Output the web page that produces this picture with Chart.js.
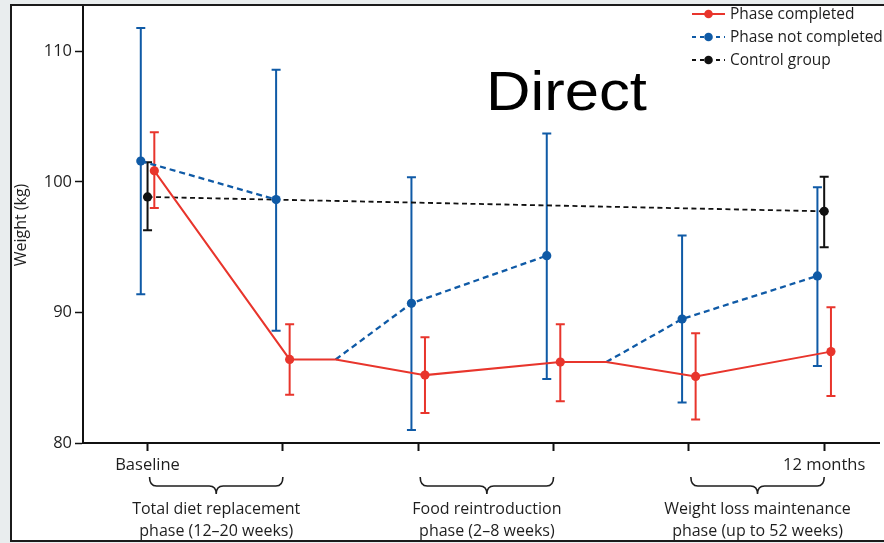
<!DOCTYPE html>
<html>
<head>
<meta charset="utf-8">
<script src="https://cdn.jsdelivr.net/npm/chart.js@4.4.1/dist/chart.umd.min.js"></script>
<style>
  html, body { margin: 0; padding: 0; background: #e9edee; overflow: hidden; }
  #panel {
    position: absolute; left: 10px; top: 4px; width: 900px; height: 534px;
    background: #fff;
    border-left: 2px solid #1b1b1b; border-top: 2px solid #1b1b1b; border-bottom: 2px solid #1b1b1b;
  }
  #wrap { position: absolute; left: 0; top: 0; width: 884px; height: 543px; }
</style>
</head>
<body>
<div id="panel"></div>
<div id="wrap"><canvas id="c" width="884" height="543"></canvas></div>
<script>
// Time points along the x axis (only the first and last are labelled)
const timeTicks = ['Baseline', '', '', '', '', '12 months'];
const yTicks = [80, 90, 100, 110];

// Weight (kg): mean and 95% CI per time point
const completedMean    = [100.85, 86.4, 85.2, 86.2, 85.1, 87.0];
const completedLow     = [98.0,   83.7, 82.3, 83.2, 81.8, 83.6];
const completedHigh    = [103.8,  89.1, 88.1, 89.1, 88.4, 90.4];

const notCompletedMean = [101.6, 98.65, 90.7,  94.35, 89.5, 92.8];
const notCompletedLow  = [91.4,  88.6,  81.0,  84.9,  83.1, 85.9];
const notCompletedHigh = [111.8, 108.6, 100.35, 103.7, 95.9, 99.6];

const controlMean = [98.85, null, null, null, null, 97.75];
const controlLow  = [96.3,  null, null, null, null, 95.0];
const controlHigh = [101.5, null, null, null, null, 100.4];

// Non-completers branch off the completed line after these time points
const branchAfter = [1, 3];

// Phase brackets under the axis
const phaseSpans  = [[0, 1], [2, 3], [4, 5]];
const phaseLabels = [
  ['Total diet replacement', 'phase (12\u201320 weeks)'],
  ['Food reintroduction', 'phase (2\u20138 weeks)'],
  ['Weight loss maintenance', 'phase (up to 52 weeks)']
];

const seriesNames = ['Phase completed', 'Phase not completed', 'Control group'];

// Layout constants
const DODGE = 0.05;   // horizontal nudge so the groups' error bars sit side by side
const SPLIT = 0.39;   // how far along an interval the branch leaves the completed line
const FONT = "'Open Sans', 'DejaVu Sans', sans-serif";
const RED = '#e8352c', BLUE = '#0f5aa6', BLACK = '#111111';
const TEXT = '#1e1e1e';

// Completed line, with a vertex at each branching point
const completedPts = [];
completedMean.forEach((v, i) => {
  completedPts.push({ x: i + DODGE, y: v });
  if (branchAfter.includes(i)) completedPts.push({ x: i + SPLIT, y: v, branch: true });
});

// Not-completed line: broken into segments, later ones starting from the branch
const notCompletedPts = [];
notCompletedMean.forEach((v, i) => {
  const prev = i - 1;
  if (branchAfter.includes(prev)) {
    notCompletedPts.push({ x: prev + SPLIT - 0.001, y: null });
    notCompletedPts.push({ x: prev + SPLIT, y: completedMean[prev], branch: true });
  }
  notCompletedPts.push({ x: i - DODGE, y: v });
});

const controlPts = controlMean
  .map((v, i) => ({ x: i, y: v }))
  .filter(p => p.y !== null);

const radius = ctx => (ctx.raw && ctx.raw.branch) ? 0 : 4.6;

const errorBars = {
  id: 'errorBars',
  beforeDatasetsDraw(chart) {
    const { ctx, scales: { x, y } } = chart;
    chart.data.datasets.forEach(ds => {
      if (!ds.errMean) return;
      ctx.save();
      ctx.strokeStyle = ds.borderColor;
      ctx.lineWidth = 2;
      ctx.setLineDash([]);
      ds.errMean.forEach((m, i) => {
        if (m === null) return;
        const px = x.getPixelForValue(i + ds.dodge);
        const lo = y.getPixelForValue(ds.errLow[i]);
        const hi = y.getPixelForValue(ds.errHigh[i]);
        ctx.beginPath();
        ctx.moveTo(px, lo); ctx.lineTo(px, hi);
        ctx.moveTo(px - 4.5, lo); ctx.lineTo(px + 4.5, lo);
        ctx.moveTo(px - 4.5, hi); ctx.lineTo(px + 4.5, hi);
        ctx.stroke();
      });
      ctx.restore();
    });
  }
};

const decorations = {
  id: 'decorations',
  afterDraw(chart) {
    const { ctx, scales: { x } } = chart;
    ctx.save();

    // y axis title
    ctx.fillStyle = TEXT;
    ctx.font = '16px ' + FONT;
    ctx.textAlign = 'center';
    ctx.textBaseline = 'middle';
    ctx.save();
    ctx.translate(21, 225);
    ctx.rotate(-Math.PI / 2);
    ctx.fillText('Weight (kg)', 0, 0);
    ctx.restore();

    // phase braces and their captions
    ctx.strokeStyle = TEXT;
    ctx.lineWidth = 1.6;
    phaseSpans.forEach((span, k) => {
      const x1 = x.getPixelForValue(span[0]) + 2;
      const x2 = x.getPixelForValue(span[1]);
      const xm = (x1 + x2) / 2;
      const top = 477, mid = 486, tip = 494, r = 7;
      ctx.beginPath();
      ctx.moveTo(x1, top);
      ctx.quadraticCurveTo(x1, mid, x1 + r, mid);
      ctx.lineTo(xm - r, mid);
      ctx.quadraticCurveTo(xm, mid, xm, tip);
      ctx.quadraticCurveTo(xm, mid, xm + r, mid);
      ctx.lineTo(x2 - r, mid);
      ctx.quadraticCurveTo(x2, mid, x2, top);
      ctx.stroke();

      ctx.font = '16px ' + FONT;
      ctx.textAlign = 'center';
      ctx.textBaseline = 'alphabetic';
      ctx.fillText(phaseLabels[k][0], xm, 514);
      ctx.fillText(phaseLabels[k][1], xm, 536);
    });

    // legend
    const lx1 = 692, lx2 = 725, ly0 = 14, dy = 23;
    chart.data.datasets.forEach((ds, i) => {
      const ly = ly0 + i * dy;
      ctx.strokeStyle = ds.borderColor;
      ctx.lineWidth = 2;
      ctx.setLineDash(ds.legendDash || []);
      ctx.beginPath();
      ctx.moveTo(lx1, ly); ctx.lineTo(lx2, ly);
      ctx.stroke();
      ctx.setLineDash([]);
      ctx.fillStyle = ds.borderColor;
      ctx.beginPath();
      ctx.arc((lx1 + lx2) / 2, ly, 4.3, 0, Math.PI * 2);
      ctx.fill();
      ctx.fillStyle = TEXT;
      ctx.font = '15.5px ' + FONT;
      ctx.textAlign = 'left';
      ctx.textBaseline = 'middle';
      ctx.fillText(ds.label, 730, ly + 1);
    });

    // large caption
    ctx.fillStyle = '#000';
    ctx.font = "55px 'Liberation Sans', Arial, sans-serif";
    ctx.textAlign = 'left';
    ctx.textBaseline = 'alphabetic';
    ctx.save();
    ctx.translate(486, 110);
    ctx.scale(1.12, 1);
    ctx.fillText('Direct', 0, 0);
    ctx.restore();

    ctx.restore();
  }
};

new Chart(document.getElementById('c'), {
  type: 'line',
  data: {
    datasets: [
      {
        label: seriesNames[0],
        data: completedPts,
        borderColor: RED, backgroundColor: RED,
        borderWidth: 2,
        pointRadius: radius, pointBackgroundColor: RED, pointBorderWidth: 0,
        errMean: completedMean, errLow: completedLow, errHigh: completedHigh, dodge: DODGE,
        legendDash: []
      },
      {
        label: seriesNames[1],
        data: notCompletedPts,
        borderColor: BLUE, backgroundColor: BLUE,
        borderWidth: 2.3, borderDash: [6, 4],
        spanGaps: false,
        pointRadius: radius, pointBackgroundColor: BLUE, pointBorderWidth: 0,
        errMean: notCompletedMean, errLow: notCompletedLow, errHigh: notCompletedHigh, dodge: -DODGE,
        legendDash: [4, 4]
      },
      {
        label: seriesNames[2],
        data: controlPts,
        borderColor: BLACK, backgroundColor: BLACK,
        borderWidth: 1.8, borderDash: [5, 3.5],
        pointRadius: radius, pointBackgroundColor: BLACK, pointBorderWidth: 0,
        errMean: controlMean, errLow: controlLow, errHigh: controlHigh, dodge: 0,
        legendDash: [4, 4]
      }
    ]
  },
  options: {
    responsive: false,
    animation: false,
    events: [],
    layout: { padding: { top: 7, left: 0, right: 0, bottom: 0 } },
    plugins: { legend: { display: false }, tooltip: { enabled: false } },
    scales: {
      x: {
        type: 'linear',
        min: -0.477, max: 5.408,
        afterBuildTicks: s => { s.ticks = timeTicks.map((_, i) => ({ value: i })); },
        afterFit: s => { s.height = 100; s.paddingLeft = 0; s.paddingRight = 0; },
        ticks: {
          callback: v => timeTicks[v] || '',
          autoSkip: false, maxRotation: 0,
          color: TEXT, padding: 4,
          font: { family: FONT, size: 16.5 }
        },
        grid: { display: true, drawOnChartArea: false, drawTicks: true, tickLength: 8, tickWidth: 2, tickColor: '#111' },
        border: { display: true, color: '#111', width: 2 }
      },
      y: {
        type: 'linear',
        min: 80, max: 113.4,
        afterBuildTicks: s => { s.ticks = yTicks.map(v => ({ value: v })); },
        afterFit: s => { s.width = 83; s.paddingTop = 0; s.paddingBottom = 0; },
        ticks: {
          color: TEXT, padding: 3,
          font: { family: FONT, size: 16.5 }
        },
        grid: { display: true, drawOnChartArea: false, drawTicks: true, tickLength: 8, tickWidth: 1.5, tickColor: '#111' },
        border: { display: true, color: '#111', width: 2 }
      }
    }
  },
  plugins: [errorBars, decorations]
});
</script>
</body>
</html>
